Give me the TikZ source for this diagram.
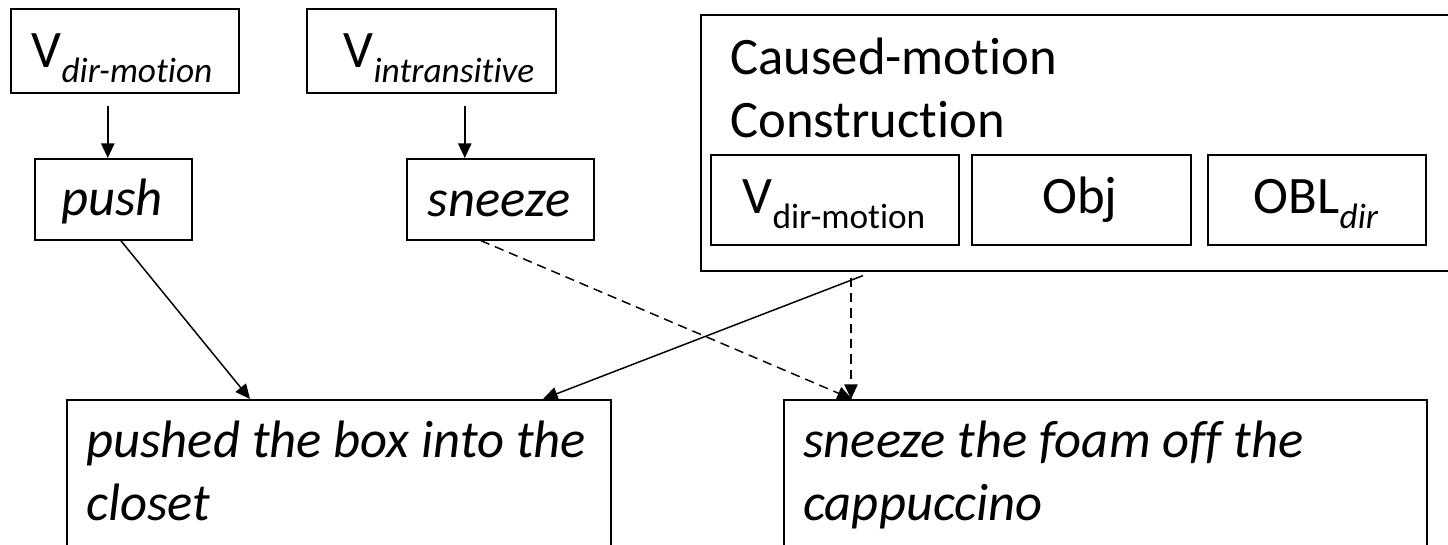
\documentclass[tikz,border=0pt]{standalone}
\usepackage{fontspec}
\setmainfont{Carlito}[Ligatures=NoCommon]
\usetikzlibrary{arrows.meta,calc}
\newcommand\bigtxt{\fontsize{39.5}{48}\selectfont}
\newcommand\subtxt{\fontsize{26.5}{31}\selectfont}
\newcommand\lowsub[1]{\raisebox{-11.25pt}{\subtxt #1}}
\begin{document}
\begin{tikzpicture}[x=0.75pt,y=-0.75pt,
  box/.style={draw, line width=1.2pt, inner sep=0pt, anchor=north west},
  lbl/.style={inner sep=0pt, anchor=base, font=\bigtxt},
  lblw/.style={inner sep=0pt, anchor=base west, font=\bigtxt},
  conn/.style={line width=1.1pt, -{Triangle[length=11pt,width=10pt]}},
  dashconn/.style={conn, dash pattern=on 7pt off 4.5pt}]
\useasboundingbox (0,0) rectangle (1448,544);
\clip (0,0) rectangle (1448,544);
% boxes
\node[box, minimum width=228*0.75pt, minimum height=84*0.75pt] (vdir) at (10,8) {};
\node[box, minimum width=157*0.75pt, minimum height=81*0.75pt] (push) at (34,158) {};
\node[box, minimum width=249*0.75pt, minimum height=84*0.75pt] (vint) at (306,8) {};
\node[box, minimum width=187*0.75pt, minimum height=81*0.75pt] (sneeze) at (406,158) {};
\node[box, minimum width=800*0.75pt, minimum height=256*0.75pt] (big) at (700,14) {};
\node[box, minimum width=248*0.75pt, minimum height=90*0.75pt] (sv) at (710,154) {};
\node[box, minimum width=219*0.75pt, minimum height=90*0.75pt] (sobj) at (971,154) {};
\node[box, minimum width=218*0.75pt, minimum height=90*0.75pt] (sobl) at (1207,154) {};
\node[box, minimum width=544*0.75pt, minimum height=200*0.75pt] (bl) at (66,399) {};
\node[box, minimum width=643*0.75pt, minimum height=200*0.75pt] (br) at (783,399) {};
% texts
\node[lbl] (tvdir) at (122,67) {V\lowsub{\itshape dir-motion}};
\node[lbl] (tvint) at (439,67) {V\lowsub{\itshape intransitive}};
\node[lbl] (tpush) at (112,215) {\itshape push};
\node[lbl] (tsneeze) at (499,216) {\itshape sneeze};
\node[lblw] (tcm) at (730,74) {Caused-motion};
\node[lblw] (tcon) at (730,137) {Construction};
\node[lbl] (tsv) at (834,213) {V\lowsub{dir-motion}};
\node[lbl] (tobj) at (1080,213) {Obj};
\node[lbl] (tobl) at (1316,213) {OBL\lowsub{\itshape dir}};
\node[lblw] (tbl1) at (86,457) {\itshape pushed the box into the};
\node[lblw] (tbl2) at (86,520) {\itshape closet};
\node[lblw] (tbr1) at (803,457) {\itshape sneeze the foam off the};
\node[lblw] (tbr2) at (803,520) {\itshape cappuccino};
% connectors
\draw[conn] ($(vdir.south)+(-17,12)$) -- ($(push.north)+(-5.5,0)$);
\draw[conn] ($(vint.south)+(33.5,12)$) -- ($(sneeze.north)+(-35.5,0)$);
\draw[conn] ($(push.south)+(7.5,0)$) -- ($(bl.north west)+(184,0)$);
\draw[dashconn] ($(sneeze.south)+(-19.5,0)$) -- ($(br.north west)+(69,0)$);
\draw[conn] ($(big.south west)+(163,4)$) -- ($(bl.north west)+(477,0)$);
\draw[dashconn] ($(big.south west)+(151,6)$) -- ($(br.north west)+(68,0)$);
\end{tikzpicture}
\end{document}
